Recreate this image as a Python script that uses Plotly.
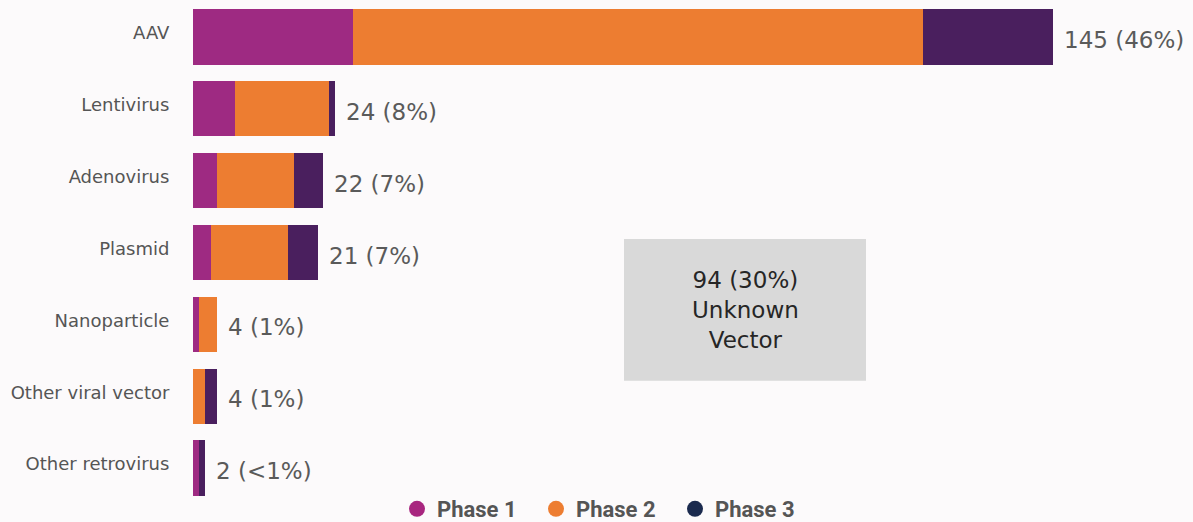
import plotly.graph_objects as go

categories = ["AAV", "Lentivirus", "Adenovirus", "Plasmid", "Nanoparticle",
              "Other viral vector", "Other retrovirus"]
phase1 = [27, 7, 4, 3, 1, 0, 1]
phase2 = [96, 16, 13, 13, 3, 2, 0]
phase3 = [22, 1, 5, 5, 0, 2, 1]
value_labels = ["145 (46%)", "24 (8%)", "22 (7%)", "21 (7%)", "4 (1%)", "4 (1%)", "2 (<1%)"]
series_names = ["Phase 1", "Phase 2", "Phase 3"]
bar_colors = ["#9E2A82", "#ED7D31", "#4A1F5E"]
legend_colors = ["#A8267F", "#ED7D31", "#1B2A4E"]
unknown_label = "94 (30%)<br>Unknown<br>Vector"

totals = [a + b + c for a, b, c in zip(phase1, phase2, phase3)]

fig = go.Figure()
for name, vals, col in zip(series_names, [phase1, phase2, phase3], bar_colors):
    fig.add_trace(go.Bar(
        y=categories, x=vals, orientation="h", name=name,
        marker=dict(color=col, line=dict(width=0)), showlegend=False,
        hoverinfo="skip",
    ))
for name, col in zip(series_names, legend_colors):
    fig.add_trace(go.Scatter(
        x=[None], y=[None], mode="markers", name=name,
        marker=dict(color=col, size=22, symbol="circle"),
    ))

for cat, tot, lab in zip(categories, totals, value_labels):
    fig.add_annotation(x=tot, y=cat, text=lab, showarrow=False, xanchor="left",
                       xshift=9, yshift=-3,
                       font=dict(family="DejaVu Sans", size=23, color="#5A5A5A"))

# Unknown vector box
fig.add_shape(type="rect", xref="paper", yref="paper",
              x0=0.431, x1=0.673, y0=0.245, y1=0.527,
              fillcolor="#D9D9D9", line=dict(width=0), layer="above")
fig.add_annotation(xref="paper", yref="paper", x=0.552, y=0.386, text=unknown_label,
                   showarrow=False, align="center",
                   font=dict(family="DejaVu Sans", size=23, color="#262626"))

fig.update_layout(
    width=1193, height=522,
    margin=dict(l=193, r=0, t=1, b=18, autoexpand=False),
    barmode="stack", bargap=0.23,
    paper_bgcolor="#FCFAFB", plot_bgcolor="#FCFAFB",
    xaxis=dict(range=[0, 168.6], visible=False, fixedrange=True, automargin=False),
    yaxis=dict(autorange="reversed", showgrid=False, zeroline=False, automargin=False,
               ticks="outside", ticklen=19, tickcolor="rgba(0,0,0,0)",
               ticklabelshift=4, fixedrange=True,
               tickfont=dict(family="DejaVu Sans", size=18, color="#555555")),
    legend=dict(orientation="h", x=0.204, xanchor="left", y=-0.010, yanchor="middle",
                font=dict(family="Roboto", size=22, color="#555555", weight="bold"),
                itemsizing="trace", bgcolor="rgba(0,0,0,0)", itemwidth=30,
                traceorder="normal", entrywidth=94, entrywidthmode="pixels"),
    showlegend=True,
)

fig.write_html("out.html", config={"displayModeBar": False, "staticPlot": True},
               post_script="document.body.style.margin='0';document.body.style.overflow='hidden';")
